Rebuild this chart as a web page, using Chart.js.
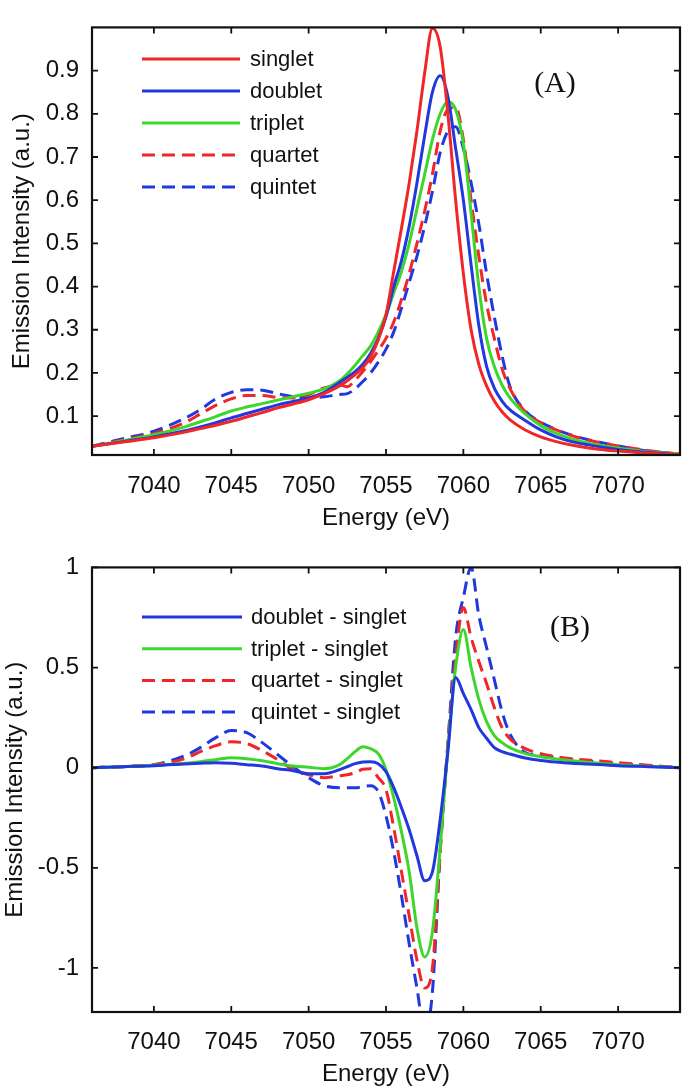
<!DOCTYPE html>
<html>
<head>
<meta charset="utf-8">
<script src="https://cdn.jsdelivr.net/npm/chart.js@4.4.1/dist/chart.umd.min.js"></script>
<style>
  html, body { margin: 0; padding: 0; background: #fff; }
  #wrap { position: relative; width: 682px; height: 1089px; }
  canvas { position: absolute; left: 0; }
</style>
</head>
<body>
<div id="wrap">
  <canvas id="chartA" width="682" height="540" style="top:0"></canvas>
  <canvas id="chartB" width="682" height="549" style="top:540px"></canvas>
</div>
<script>
// energy grid (eV), shared by both panels
const energy = [7036, 7038, 7040, 7042, 7043, 7044, 7045, 7046, 7047, 7048, 7049, 7050, 7051, 7052,
  7052.5, 7053, 7053.5, 7054, 7054.5, 7055, 7055.5, 7056, 7056.5, 7057, 7057.5, 7058, 7058.5, 7059,
  7059.5, 7060, 7060.5, 7061, 7061.5, 7062, 7062.5, 7063, 7064, 7065, 7066, 7067, 7068, 7070, 7072, 7074]

// panel A: emission spectra
const singlet = [.030, .040, .050, .063, .071, .079, .088, .098, .108, .119, .128, .138, .152, .170,
  .182, .196, .212, .237, .277, .335, .435, .535, .640, .760, .895, .998, .955, .800,
  .600, .430, .300, .220, .170, .135, .110, .092, .068, .052, .041, .033, .027, .019, .014, .011]
const doublet = [.030, .041, .052, .066, .075, .085, .096, .106, .116, .126, .134, .142, .155, .178,
  .190, .203, .220, .245, .280, .330, .400, .460, .540, .640, .750, .850, .888, .840,
  .720, .600, .450, .310, .215, .165, .135, .115, .090, .068, .052, .041, .034, .023, .016, .011]
const triplet = [.030, .043, .057, .075, .087, .099, .112, .121, .129, .137, .145, .153, .163, .182,
  .198, .218, .240, .262, .295, .335, .385, .435, .500, .580, .660, .740, .800, .828,
  .810, .730, .570, .400, .280, .215, .172, .143, .105, .078, .060, .047, .038, .026, .017, .012]
const quartet = [.030, .045, .060, .085, .105, .125, .140, .148, .148, .143, .142, .150, .165, .172,
  .168, .183, .203, .226, .252, .280, .318, .370, .430, .500, .575, .660, .760, .810,
  .815, .740, .600, .470, .360, .280, .210, .165, .110, .085, .068, .055, .045, .031, .020, .012]
const quintet = [.030, .048, .065, .095, .115, .140, .155, .161, .160, .152, .145, .142, .145, .150,
  .152, .163, .180, .200, .225, .255, .295, .350, .410, .470, .540, .620, .710, .760,
  .770, .720, .640, .545, .430, .330, .240, .170, .112, .086, .069, .056, .046, .031, .019, .012]

// panel B: differences to singlet
const diffDoublet = [0, .005, .010, .018, .022, .025, .022, .015, .008, -.005, -.015, -.030, -.030, -.010,
  .005, .020, .028, .030, .020, -.020, -.100, -.200, -.310, -.440, -.565, -.520, -.260, .080,
  .450, .370, .290, .200, .147, .100, .080, .068, .048, .036, .028, .022, .018, .010, .005, 0]
const diffTriplet = [0, .005, .012, .022, .030, .040, .050, .045, .035, .020, .008, .002, -.005, .015,
  .045, .080, .105, .095, .070, -.010, -.150, -.320, -.520, -.800, -.945, -.820, -.400, .100,
  .500, .690, .500, .340, .230, .160, .125, .100, .070, .055, .043, .034, .027, .015, .007, 0]
const diffQuartet = [0, .005, .015, .045, .080, .110, .130, .120, .085, .040, -.010, -.035, -.050, -.040,
  -.035, -.025, -.008, -.005, -.050, -.110, -.300, -.520, -.740, -.960, -1.100, -1.000, -.420, .120,
  .550, .800, .650, .530, .420, .300, .200, .145, .095, .070, .055, .045, .038, .025, .012, 0]
const diffQuintet = [0, .005, .015, .060, .100, .150, .185, .175, .125, .065, .005, -.050, -.090, -.100,
  -.100, -.100, -.095, -.090, -.120, -.240, -.420, -.640, -.880, -1.100, -1.320, -1.120, -.420, .120,
  .650, .850, 1.000, .760, .600, .440, .280, .170, .075, .060, .050, .040, .033, .020, .010, 0]

// tick labels
const energyTicks = [7040, 7045, 7050, 7055, 7060, 7065, 7070]
const ticksA = [0.1, 0.2, 0.3, 0.4, 0.5, 0.6, 0.7, 0.8, 0.9]
const ticksB = [-1, -0.5, 0, 0.5, 1]

const RED = "rgb(240,38,40)"
const BLUE = "rgb(32,56,222)"
const GREEN = "rgb(62,214,44)"
const DASH = [13, 7]
const SANS = "'Liberation Sans', Arial, Helvetica, sans-serif"

function series(label, values, color, dashed) {
  return {
    label: label,
    data: energy.map((x, i) => ({ x: x, y: values[i] })),
    borderColor: color,
    borderWidth: 3,
    borderDash: dashed ? DASH : [],
    pointRadius: 0,
    fill: false,
    cubicInterpolationMode: "monotone",
  }
}

// box round the plot with inward ticks on all four sides
const framePlugin = {
  id: "frame",
  afterDatasetsDraw(chart) {
    const { ctx, chartArea: a, scales } = chart
    ctx.save()
    ctx.strokeStyle = "#111"
    ctx.lineWidth = 1.8
    ctx.beginPath()
    scales.x.ticks.forEach((t) => {
      const px = scales.x.getPixelForValue(t.value)
      ctx.moveTo(px, a.bottom)
      ctx.lineTo(px, a.bottom - 6)
      ctx.moveTo(px, a.top)
      ctx.lineTo(px, a.top + 6)
    })
    scales.y.ticks.forEach((t) => {
      const py = scales.y.getPixelForValue(t.value)
      ctx.moveTo(a.left, py)
      ctx.lineTo(a.left + 6, py)
      ctx.moveTo(a.right, py)
      ctx.lineTo(a.right - 6, py)
    })
    ctx.stroke()
    ctx.lineWidth = 2.2
    ctx.strokeRect(a.left, a.top, a.right - a.left, a.bottom - a.top)
    ctx.restore()
  },
}

// legend and panel letter drawn inside the axes
const insideLegend = {
  id: "insideLegend",
  afterDraw(chart, args, opts) {
    const ctx = chart.ctx
    ctx.save()
    chart.data.datasets.forEach((ds, i) => {
      const y = opts.y0 + i * opts.step
      ctx.strokeStyle = ds.borderColor
      ctx.lineWidth = ds.borderWidth
      ctx.setLineDash(ds.borderDash || [])
      ctx.beginPath()
      ctx.moveTo(opts.x0, y)
      ctx.lineTo(opts.x1, y)
      ctx.stroke()
      ctx.setLineDash([])
      ctx.fillStyle = "#111"
      ctx.font = "22px " + SANS
      ctx.textBaseline = "middle"
      ctx.textAlign = "left"
      ctx.fillText(ds.label, opts.textX, y + 1)
    })
    ctx.font = "30px 'Liberation Serif', 'Times New Roman', serif"
    ctx.textAlign = "center"
    ctx.fillText(opts.tag, opts.tagX, opts.tagY)
    ctx.restore()
  },
}

function makeOptions(cfg) {
  return {
    responsive: false,
    animation: false,
    layout: { padding: { top: cfg.padTop, right: 2, bottom: 0, left: 0 } },
    plugins: {
      legend: { display: false },
      tooltip: { enabled: false },
      insideLegend: cfg.legend,
    },
    scales: {
      x: {
        type: "linear",
        min: 7036,
        max: 7074,
        afterBuildTicks: (axis) => { axis.ticks = energyTicks.map((v) => ({ value: v })) },
        afterFit: (axis) => { axis.height = cfg.xHeight },
        grid: { display: false, drawTicks: false },
        border: { display: false },
        ticks: { color: "#111", font: { size: 24, family: SANS }, padding: cfg.xPad, maxRotation: 0, autoSkip: false, callback: (v) => String(v) },
        title: { display: true, text: "Energy (eV)", color: "#111", font: { size: 24, family: SANS }, padding: { top: 0, bottom: cfg.titlePad } },
      },
      y: {
        type: "linear",
        min: cfg.yMin,
        max: cfg.yMax,
        afterBuildTicks: (axis) => { axis.ticks = cfg.yTicks.map((v) => ({ value: v })) },
        afterFit: (axis) => { axis.width = 92 },
        grid: { display: false, drawTicks: false },
        border: { display: false },
        ticks: { color: "#111", font: { size: 24, family: SANS }, padding: 13, autoSkip: false, callback: (v) => String(v) },
        title: { display: true, text: "Emission Intensity (a.u.)", color: "#111", font: { size: 24, family: SANS }, padding: { top: cfg.yTitlePad, bottom: 0 } },
      },
    },
  }
}

new Chart(document.getElementById("chartA"), {
  type: "line",
  data: {
    datasets: [
      series("singlet", singlet, RED, false),
      series("doublet", doublet, BLUE, false),
      series("triplet", triplet, GREEN, false),
      series("quartet", quartet, RED, true),
      series("quintet", quintet, BLUE, true),
    ],
  },
  options: makeOptions({
    padTop: 4, xHeight: 85, xPad: 17, titlePad: 7, yMin: 0.01, yMax: 1.0, yTicks: ticksA, yTitlePad: 8,
    legend: { x0: 142, x1: 240, textX: 250, y0: 59, step: 32, tag: "(A)", tagX: 555, tagY: 84 },
  }),
  plugins: [framePlugin, insideLegend],
})

new Chart(document.getElementById("chartB"), {
  type: "line",
  data: {
    datasets: [
      series("doublet - singlet", diffDoublet, BLUE, false),
      series("triplet - singlet", diffTriplet, GREEN, false),
      series("quartet - singlet", diffQuartet, RED, true),
      series("quintet - singlet", diffQuintet, BLUE, true),
    ],
  },
  options: makeOptions({
    padTop: 21, xHeight: 77, xPad: 16, titlePad: 0, yMin: -1.22, yMax: 1, yTicks: ticksB, yTitlePad: 1,
    legend: { x0: 142, x1: 242, textX: 251, y0: 77, step: 31.7, tag: "(B)", tagX: 570, tagY: 88 },
  }),
  plugins: [framePlugin, insideLegend],
})
</script>
</body>
</html>
